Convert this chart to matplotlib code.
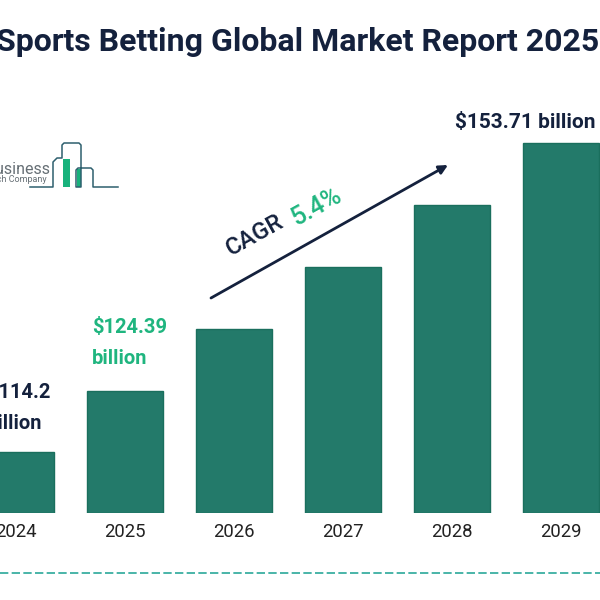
import matplotlib
matplotlib.use('Agg')
import matplotlib.pyplot as plt

# bar heights are read off the picture, the chart is not drawn to scale
years = ['2024', '2025', '2026', '2027', '2028', '2029']
bar_heights = [61, 122, 184, 246, 308, 370]

title = 'Sports Betting Global Market Report 2025'
label_2024 = '$114.2\nbillion'
label_2025 = '$124.39\nbillion'
label_2029 = '$153.71 billion'
cagr_word = 'CAGR'
cagr_value = '5.4%'

NAVY = '#14213d'
GREEN = '#1fb57f'
BAR = '#237a6a'
BAR_EDGE = '#1a6f5d'

plt.rcParams['font.family'] = ['Roboto', 'DejaVu Sans']

fig = plt.figure(figsize=(6, 6), dpi=100)


def px(x, y):
    """Convert picture pixels to figure fractions."""
    return x / 600, 1 - y / 600


# Bars
ax = fig.add_axes([0, 87 / 600, 1, 513 / 600])
ax.bar(range(len(years)), bar_heights, width=76 / 109, color=BAR, edgecolor=BAR_EDGE, linewidth=1)
ax.set_xlim(-16 / 109, 584 / 109)
ax.set_ylim(0, 513)
ax.set_xticks(range(len(years)))
ax.set_xticklabels(years, fontsize=13.3, color='#222222')
ax.tick_params(axis='x', length=0, pad=7)
ax.set_yticks([])
for side in ax.spines.values():
    side.set_visible(False)
ax.patch.set_alpha(0)

# Title and value labels
fig.text(*px(-4, 42), title, fontsize=23, fontweight='bold', color=NAVY, va='center', ha='left')
fig.text(*px(-13, 408), label_2024, fontsize=14.5, fontweight='bold', color=NAVY, va='center', ha='left', linespacing=1.75)
fig.text(*px(92, 343), label_2025, fontsize=14.5, fontweight='bold', color=GREEN, va='center', ha='left', linespacing=1.75)
fig.text(*px(525, 122), label_2029, fontsize=15, fontweight='bold', color=NAVY, va='center', ha='center')

# CAGR arrow
fig.add_artist(plt.Annotation('', xy=px(448, 165), xytext=px(211, 298), xycoords='figure fraction',
                              textcoords='figure fraction',
                              arrowprops=dict(arrowstyle='-|>', color=NAVY, lw=2, mutation_scale=13,
                                              shrinkA=0, shrinkB=0)))
fig.text(*px(255, 235), cagr_word, fontsize=17, fontweight='medium', color=NAVY, rotation=29,
         va='center', ha='center', rotation_mode='anchor')
fig.text(*px(317, 207), cagr_value, fontsize=18, fontweight='medium', color=GREEN, rotation=29,
         va='center', ha='center', rotation_mode='anchor')

# Logo
logo_x = [30, 53, 53, 57, 62, 62, 64, 79, 81, 81, 76, 76, 78, 91, 93, 93, 118]
logo_y = [187, 187, 162, 158, 158, 145, 143, 143, 145, 187, 187, 170, 168, 168, 170, 187, 187]
fig.add_artist(plt.Line2D([x / 600 for x in logo_x], [1 - y / 600 for y in logo_y],
                          color='#2d5f6e', lw=1.1, solid_joinstyle='round'))
fig.add_artist(plt.Rectangle(px(63, 187), 7 / 600, 28 / 600, color='#18b27c', lw=0))
fig.add_artist(plt.Rectangle(px(77, 187), 4 / 600, 18 / 600, color='#18b27c', lw=0))
fig.text(*px(51, 169), 'Business', fontsize=11.5, color='#666f75', va='center', ha='right')
fig.text(*px(47, 180), 'Research Company', fontsize=6.5, color='#666f75', va='center', ha='right')

# Dashed footer line
fig.add_artist(plt.Line2D([0, 1], [1 - 573 / 600] * 2, color='#2aa89a', lw=1.2, dashes=(5, 2)))

fig.savefig('out.png', dpi=100, facecolor='white')
